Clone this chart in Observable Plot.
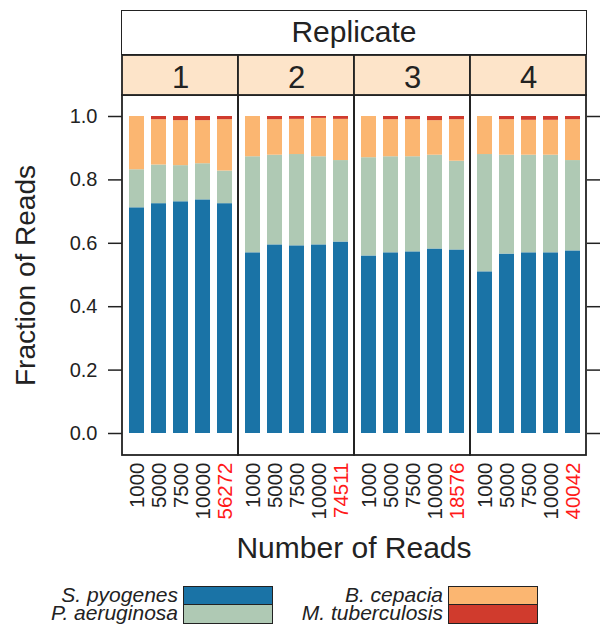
<!DOCTYPE html>
<html>
<head>
<meta charset="utf-8">
<script src="https://cdn.jsdelivr.net/npm/d3@7"></script>
<script src="https://cdn.jsdelivr.net/npm/@observablehq/plot@0.6"></script>
<style>
  html, body { margin: 0; padding: 0; background: #fff; }
  #wrap { position: relative; width: 600px; height: 626px; font-family: "Liberation Sans", Arial, sans-serif; color: #222; }
  #wrap svg { position: absolute; left: 0; top: 55px; overflow: visible; }
  .abs { position: absolute; white-space: nowrap; }
  #strip { left: 121px; top: 10px; width: 466px; height: 45px; box-sizing: border-box; border: 1.6px solid #222; text-align: center; font-size: 30px; line-height: 42px; background: #fff; }
  #xtitle { left: 121px; top: 529.6px; width: 466px; text-align: center; font-size: 30px; line-height: 36px; }
  .lab { font-size: 21px; font-style: italic; line-height: 17px; text-align: right; width: 200px; }
  .sw { box-sizing: border-box; border: 1.5px solid #222; width: 90px; height: 19.5px; }
</style>
</head>
<body>
<div id="wrap">
  <div id="strip" class="abs">Replicate</div>
  <div id="xtitle" class="abs">Number of Reads</div>
</div>
<script>
// ---- data ----
const replicates = ["1", "2", "3", "4"];
const readLevels = ["1000", "5000", "7500", "10000"];
const totalReads = ["56272", "74511", "18576", "40042"];
const speciesNames = ["S. pyogenes", "P. aeruginosa", "B. cepacia", "M. tuberculosis"];
const speciesColors = ["#1a73a6", "#afc9b4", "#fbb671", "#d03b2d"];
// fractions per replicate, bars in order 1000, 5000, 7500, 10000, all reads
const sPyogenes = [
  [0.712, 0.725, 0.731, 0.737, 0.725],
  [0.570, 0.595, 0.592, 0.595, 0.604],
  [0.560, 0.570, 0.573, 0.582, 0.579],
  [0.510, 0.566, 0.570, 0.570, 0.576]
];
const pAeruginosa = [
  [0.120, 0.122, 0.114, 0.114, 0.103],
  [0.303, 0.283, 0.288, 0.278, 0.257],
  [0.310, 0.303, 0.300, 0.296, 0.280],
  [0.370, 0.312, 0.308, 0.308, 0.285]
];
const bCepacia = [
  [0.168, 0.143, 0.142, 0.136, 0.162],
  [0.127, 0.112, 0.111, 0.121, 0.130],
  [0.130, 0.117, 0.117, 0.109, 0.131],
  [0.120, 0.112, 0.110, 0.110, 0.129]
];
const mTuberculosis = [
  [0.000, 0.010, 0.013, 0.013, 0.010],
  [0.000, 0.010, 0.009, 0.006, 0.009],
  [0.000, 0.010, 0.010, 0.013, 0.010],
  [0.000, 0.010, 0.012, 0.012, 0.010]
];
const yTicks = [0, 0.2, 0.4, 0.6, 0.8, 1.0];

// ---- build tables ----
const seriesBySpecies = [sPyogenes, pAeruginosa, bCepacia, mTuberculosis];
const positions = [...readLevels, "all"];
const bars = [];
const labels = [];
replicates.forEach((rep, r) => {
  positions.forEach((pos, i) => {
    speciesNames.forEach((sp, s) => {
      bars.push({rep, pos, species: sp, value: seriesBySpecies[s][r][i]});
    });
    labels.push({rep, pos, text: pos === "all" ? totalReads[r] : pos, total: pos === "all"});
  });
});
const panels = replicates.map(rep => ({rep}));

// ---- layout ----
const pxPerUnit = 317;
const yMin = -22 / pxPerUnit;
const yMax = 1 + 21 / pxPerUnit;
const stripTop = yMax + 40 / pxPerUnit;
const ink = "#222";

const plot = Plot.plot({
  width: 600,
  height: 470,
  marginTop: 40,
  marginBottom: 70,
  marginLeft: 121,
  marginRight: 13,
  style: {fontFamily: "'Liberation Sans', Arial, sans-serif", color: ink, background: "transparent"},
  fx: {domain: replicates, padding: 0, axis: null},
  x: {domain: positions, paddingInner: 0.333, paddingOuter: 0.244, axis: null},
  y: {domain: [yMin, yMax], axis: null},
  color: {domain: speciesNames, range: speciesColors},
  marks: [
    Plot.barY(bars, {fx: "rep", x: "pos", y: "value", fill: "species", order: speciesNames}),
    Plot.rect(panels, {fx: "rep", y1: yMin, y2: yMax, fill: "none", stroke: ink, strokeWidth: 1.8}),
    Plot.rect(panels, {fx: "rep", y1: yMax, y2: stripTop, fill: "#fde4c9", stroke: ink, strokeWidth: 1.8}),
    Plot.text(panels, {fx: "rep", text: "rep", frameAnchor: "top", lineAnchor: "bottom", dy: -8, fontSize: 31, fill: ink}),
    Plot.text(labels.filter(d => !d.total), {fx: "rep", x: "pos", text: "text", frameAnchor: "bottom", rotate: -90, textAnchor: "end", lineAnchor: "middle", dy: 7, fontSize: 20.5, fill: ink}),
    Plot.text(labels.filter(d => d.total), {fx: "rep", x: "pos", text: "text", frameAnchor: "bottom", rotate: -90, textAnchor: "end", lineAnchor: "middle", dy: 7, fontSize: 20.5, fill: "#ff1a1a"}),
    Plot.axisY({anchor: "left", ticks: yTicks, tickFormat: d3.format(".1f"), tickSize: 14, tickPadding: 11, fontSize: 20, label: null, strokeWidth: 1.5}),
    Plot.axisY({anchor: "right", ticks: yTicks, tickFormat: () => "", tickSize: 13, label: null, strokeWidth: 1.5}),
    Plot.text([{rep: "1"}], {fx: "rep", text: () => "Fraction of Reads", frameAnchor: "left", rotate: -90, textAnchor: "middle", lineAnchor: "bottom", dx: -88, fontSize: 28, fill: ink})
  ]
});
const wrap = document.getElementById("wrap");
wrap.appendChild(plot);

// ---- legend ----
const legendCols = [
  {labelRight: 178, swatchLeft: 182.5, items: [0, 1]},
  {labelRight: 443, swatchLeft: 447.5, items: [2, 3]}
];
legendCols.forEach(col => {
  col.items.forEach((s, row) => {
    const lab = document.createElement("div");
    lab.className = "abs lab";
    lab.style.left = (col.labelRight - 200) + "px";
    lab.style.top = (586 + row * 17.8) + "px";
    lab.textContent = speciesNames[s];
    wrap.appendChild(lab);
    const sw = document.createElement("div");
    sw.className = "abs sw";
    sw.style.left = col.swatchLeft + "px";
    sw.style.top = (586 + row * 18.2) + "px";
    sw.style.background = speciesColors[s];
    wrap.appendChild(sw);
  });
});
</script>
</body>
</html>
